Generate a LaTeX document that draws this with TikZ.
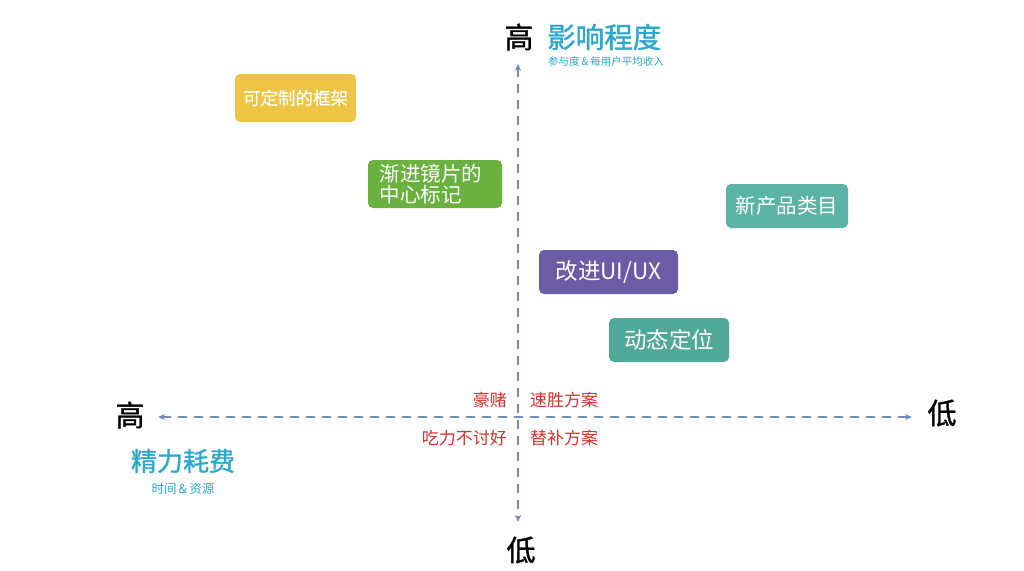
\documentclass[tikz,border=0pt]{standalone}
\usepackage{fontspec}
\setmainfont{Noto Sans CJK SC}
\newfontfamily\medfont[FakeBold=1.2]{Noto Sans CJK SC}
\newfontfamily\semifont[FakeBold=0.4]{Noto Sans CJK SC}
\usetikzlibrary{arrows.meta}
\definecolor{axisc}{HTML}{6F8CC0}
\definecolor{yel}{HTML}{EEC443}
\definecolor{grn}{HTML}{6AB13F}
\definecolor{teal1}{HTML}{5BB3A6}
\definecolor{teal2}{HTML}{4FA898}
\definecolor{purp}{HTML}{6A5DA6}
\definecolor{cyanc}{HTML}{2CA8CC}
\definecolor{redc}{HTML}{D2322B}
\tikzset{
  box/.style={rounded corners=5pt, text=white, inner sep=0pt, align=left},
  axisline/.style={draw=axisc, line width=1.3pt, dash pattern=on 9pt off 7pt, {Stealth[length=7pt,width=6pt]}-{Stealth[length=7pt,width=6pt]}},
  quad/.style={text=redc, font=\fontsize{17}{20}\selectfont, inner sep=0pt},
  big/.style={text=black, font=\fontsize{29}{32}\selectfont\medfont, inner sep=0pt},
}
\begin{document}
\begin{tikzpicture}[x=1pt,y=-1pt]
\useasboundingbox (0,0) rectangle (1024,570);
\fill[white] (0,0) rectangle (1024,570);
% axes
\coordinate (L) at (158,417);
\coordinate (R) at (912,417);
\coordinate (T) at (518,64);
\coordinate (B) at (518,522);
\draw[axisline] (L) -- (R);
\draw[axisline] (T) -- (B);
% boxes
\node[box, fill=yel, minimum width=121pt, minimum height=48pt, align=center, font=\fontsize{17.5}{20}\selectfont\semifont] (b1) at (295.5,98) {可定制的框架};
\node[box, fill=grn, minimum width=134pt, minimum height=48pt, font=\fontsize{20.5}{21}\selectfont] (b2) at (435,184) {\hspace*{-8pt}渐进镜片的\\\hspace*{-8pt}中心标记\hspace*{20pt}};
\node[box, fill=teal1, minimum width=122pt, minimum height=44pt, align=center, font=\fontsize{20.5}{22}\selectfont] (b3) at (787,206) {新产品类目};
\node[box, fill=purp, minimum width=139pt, minimum height=44pt, align=center, font=\fontsize{22.5}{24}\selectfont] (b4) at (608.5,272) {改进UI/UX};
\node[box, fill=teal2, minimum width=120pt, minimum height=44pt, align=center, font=\fontsize{22.5}{24}\selectfont] (b5) at (669,340) {动态定位};
% axis labels
\node[big] (tH) at (519,37) {高};
\node[text=cyanc, font=\fontsize{28.5}{30}\selectfont\medfont, anchor=west, inner sep=0pt] (tT) at (547,37) {影响程度};
\node[text=cyanc, font=\fontsize{10.5}{12}\selectfont, anchor=west, inner sep=0pt] (tS) at (548,62) {参与度\,\&\,每用户平均收入};
\node[big] (lH) at (130,415) {高};
\node[text=cyanc, font=\fontsize{26}{28}\selectfont\medfont, inner sep=0pt] (lT) at (183,461) {精力耗费};
\node[text=cyanc, font=\fontsize{12.5}{14}\selectfont, inner sep=0pt] (lS) at (183,489) {时间\,\&\,资源};
\node[big] (rL) at (942,413) {低};
\node[big] (bL) at (521,550) {低};
% quadrant labels
\node[quad, anchor=east] (q1) at (507,400) {豪赌};
\node[quad, anchor=west] (q2) at (530,400) {速胜方案};
\node[quad, anchor=east] (q3) at (507,438) {吃力不讨好};
\node[quad, anchor=west] (q4) at (530,438) {替补方案};
\end{tikzpicture}
\end{document}
